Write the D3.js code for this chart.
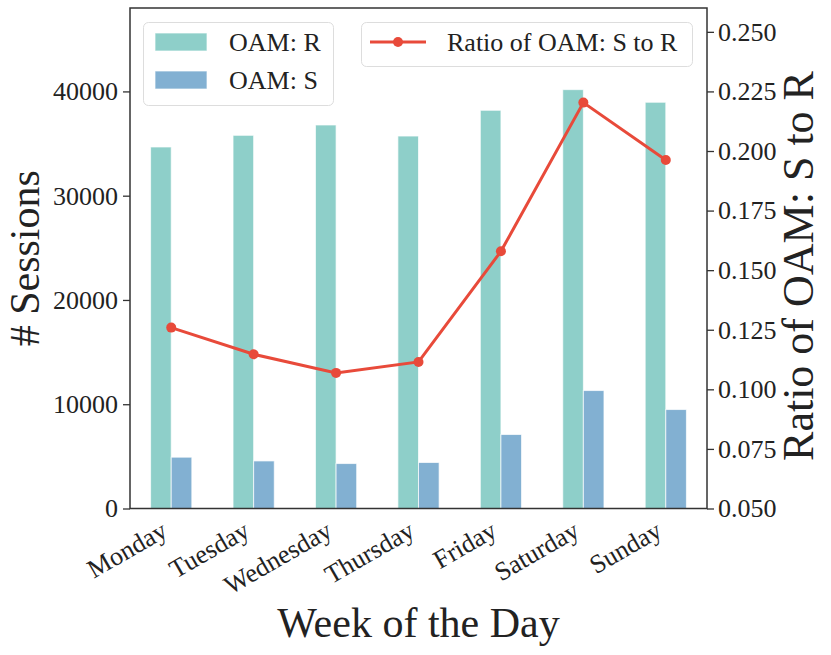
<!DOCTYPE html>
<html><head><meta charset="utf-8">
<script src="https://cdn.jsdelivr.net/npm/d3@7"></script>
<style>body{margin:0;background:#fff;} svg{display:block;} text{font-family:"Liberation Serif","Times New Roman",serif;fill:#222;}</style>
</head><body>
<svg id="c" width="831" height="655"></svg>
<script>
const days = ["Monday","Tuesday","Wednesday","Thursday","Friday","Saturday","Sunday"];
const oamR = [34670, 35790, 36780, 35720, 38190, 40170, 38960];
const oamS = [4920, 4560, 4310, 4410, 7095, 11310, 9490];
const ratio = [0.1259, 0.1147, 0.1069, 0.1115, 0.1579, 0.2203, 0.1962];
const leftTicks = [0, 10000, 20000, 30000, 40000];
const rightTicks = [0.050, 0.075, 0.100, 0.125, 0.150, 0.175, 0.200, 0.225, 0.250];

const L = 130, R = 707, T = 8, B = 508.5;
const svg = d3.select("#c");
const x = d3.scaleLinear().domain([-0.5, 6.5]).range([L, R]);
const yL = d3.scaleLinear().domain([0, 48000]).range([B, T]);
const yR = d3.scaleLinear().domain([0.05, 0.26]).range([B, T]);
const bw = 0.25;
const cR = "#8ECFC9", cS = "#82B0D2", cLine = "#E84A3A";

// bars
svg.append("g").selectAll("rect").data(oamR).join("rect")
  .attr("x", (d,i)=>x(i-bw)).attr("width", x(bw)-x(0))
  .attr("y", d=>yL(d)).attr("height", d=>B-yL(d))
  .attr("fill", cR).attr("stroke", "#fff").attr("stroke-opacity",0.7).attr("stroke-width",1);
svg.append("g").selectAll("rect").data(oamS).join("rect")
  .attr("x", (d,i)=>x(i)).attr("width", x(bw)-x(0))
  .attr("y", d=>yL(d)).attr("height", d=>B-yL(d))
  .attr("fill", cS).attr("stroke", "#fff").attr("stroke-opacity",0.7).attr("stroke-width",1);

// line
const line = d3.line().x((d,i)=>x(i)).y(d=>yR(d));
svg.append("path").datum(ratio).attr("d", line).attr("fill","none")
  .attr("stroke", cLine).attr("stroke-width", 3);
svg.append("g").selectAll("circle").data(ratio).join("circle")
  .attr("cx",(d,i)=>x(i)).attr("cy",d=>yR(d)).attr("r",5).attr("fill",cLine);

// axes
const fs = 26;
const axL = svg.append("g").attr("transform",`translate(${L},0)`)
  .call(d3.axisLeft(yL).tickValues(leftTicks).tickSize(7).tickPadding(5).tickFormat(d3.format("d")));
const axR = svg.append("g").attr("transform",`translate(${R},0)`)
  .call(d3.axisRight(yR).tickValues(rightTicks).tickSize(7).tickPadding(4).tickFormat(d3.format(".3f")));
[axL, axR].forEach(a=>{
  a.select(".domain").remove();
  a.selectAll("line").attr("stroke","#333").attr("stroke-width",1.3);
  a.selectAll("text").attr("font-size",fs).attr("font-family","Liberation Serif").attr("fill","#222");
});
const axB = svg.append("g").attr("transform",`translate(0,${B})`)
  .call(d3.axisBottom(x).tickValues(d3.range(days.length)).tickSize(0).tickFormat(i=>days[i]));
axB.select(".domain").remove();
axB.selectAll("text").attr("font-size",fs).attr("font-family","Liberation Serif").attr("fill","#222")
  .attr("text-anchor","end").attr("dy",null).attr("y",null)
  .attr("transform","translate(-12,11) rotate(-30)").attr("dominant-baseline","hanging");

// frame
svg.append("rect").attr("x",L).attr("y",T).attr("width",R-L).attr("height",B-T)
  .attr("fill","none").attr("stroke","#333").attr("stroke-width",1.5);

// axis titles
svg.append("text").attr("transform",`translate(39,${(T+B)/2}) rotate(-90)`)
  .attr("text-anchor","middle").attr("font-size",42).text("# Sessions");
svg.append("text").attr("x",(L+R)/2).attr("y",637)
  .attr("text-anchor","middle").attr("font-size",42).text("Week of the Day");
svg.append("text").attr("transform",`translate(813,266) rotate(-90)`)
  .attr("text-anchor","middle").attr("font-size",44).text("Ratio of OAM: S to R");

// legend 1
const lg1 = svg.append("g");
lg1.append("rect").attr("x",143.5).attr("y",22.5).attr("width",190).attr("height",83).attr("rx",5)
  .attr("fill","#fff").attr("fill-opacity",0.8).attr("stroke","#ddd").attr("stroke-width",1);
[["OAM: R",cR,42],["OAM: S",cS,80]].forEach(([t,c,cy])=>{
  lg1.append("rect").attr("x",155).attr("y",cy-9).attr("width",52).attr("height",18).attr("fill",c)
    .attr("stroke","#fff").attr("stroke-opacity",0.7);
  lg1.append("text").attr("x",229).attr("y",cy).attr("dy","0.35em").attr("font-size",fs).text(t);
});
// legend 2
const lg2 = svg.append("g");
lg2.append("rect").attr("x",361.5).attr("y",22.5).attr("width",331).attr("height",44).attr("rx",5)
  .attr("fill","#fff").attr("fill-opacity",0.8).attr("stroke","#ddd").attr("stroke-width",1);
lg2.append("line").attr("x1",370).attr("x2",426).attr("y1",42).attr("y2",42).attr("stroke",cLine).attr("stroke-width",3);
lg2.append("circle").attr("cx",398).attr("cy",42).attr("r",5).attr("fill",cLine);
lg2.append("text").attr("x",447).attr("y",42).attr("dy","0.35em").attr("font-size",fs).text("Ratio of OAM: S to R");
</script>
</body></html>
